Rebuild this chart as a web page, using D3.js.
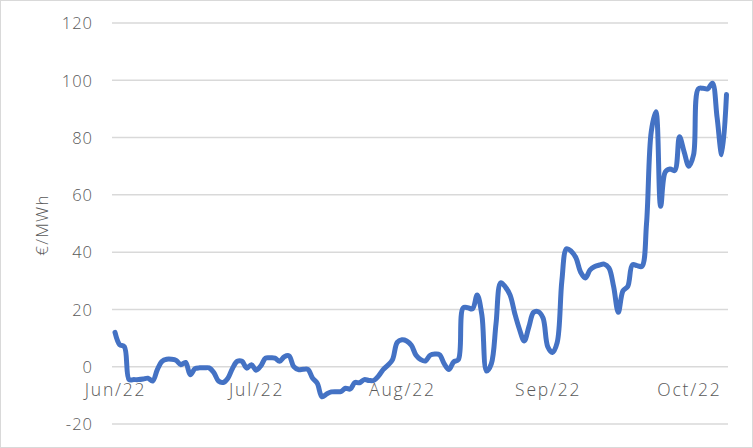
<!DOCTYPE html>
<html><head><meta charset="utf-8">
<script src="https://cdn.jsdelivr.net/npm/d3@7"></script>
<style>
html,body{margin:0;padding:0;background:#fff;}
svg{display:block;}
svg text{font-family:"Open Sans","DejaVu Sans",sans-serif;font-weight:300;}
</style></head><body>
<svg id="c" width="753" height="448"></svg>
<script>
const startDate = "2022-06-01";
const prices = [12,7.7,7,-4.5,-4.5,-4.5,-4.3,-4,-5,-1,
1.9,2.6,2.6,2.2,0.7,1.5,-2.8,-0.7,-0.4,-0.4,
-0.4,-2,-5,-5.5,-4,-0.5,1.9,1.9,-0.5,0.7,
-1.2,0.3,3,3.1,3,1.9,3.5,3.8,0,-1,
-0.9,-0.9,-4,-5.8,-10.5,-9.5,-8.8,-8.7,-8.7,-7.5,
-7.8,-5.5,-5.6,-4.5,-4.8,-4.8,-3.3,-1,0.5,2.5,
8.5,9.4,9,7.5,4,2.5,2,4,4.4,4.2,
1,-1,1.7,2.5,20.5,20.6,20.2,25,18,-1.5,
1,15,29.3,27.8,25,18.5,13,9,14,19,
19.2,17,7,5,8.4,30,41.2,40.3,38,33,
31,33.8,35,35.5,35.8,34.5,28,19,26.5,28,
35.6,35.3,35,50,82,89,56,68,69,68.5,
80.3,75,70,74,97,97.2,97,99,87,74,95];
const tickLabels = ["Jun/22","Jul/22","Aug/22","Sep/22","Oct/22"];
const tickDates = ["2022-06-01","2022-07-01","2022-08-01","2022-09-01","2022-10-01"];
const yTicks = [-20,0,20,40,60,80,100,120];
const yTitle = "€/MWh";

const parse = d3.utcParse("%Y-%m-%d");
const d0 = parse(startDate);
const data = prices.map((v,i)=>({date:d3.utcDay.offset(d0,i), v}));

const svg = d3.select("#c");
svg.append("rect").attr("x",0.5).attr("y",0.5).attr("width",752).attr("height",447)
  .attr("fill","#fff").attr("stroke","#d9d9d9");

const x = d3.scaleUtc().domain([data[0].date, data[data.length-1].date]).range([115,726.5]);
const y = d3.scaleLinear().domain([-20,120]).range([424,23]);
const gridX0 = 112, gridX1 = 728;

// gridlines
svg.append("g").selectAll("line").data(yTicks).join("line")
  .attr("x1",gridX0).attr("x2",gridX1)
  .attr("y1",d=>y(d)).attr("y2",d=>y(d))
  .attr("stroke","#d9d9d9").attr("stroke-width",1.5);

// y axis labels
const yAxis = d3.axisLeft(y).tickValues(yTicks).tickSize(0).tickPadding(0).tickFormat(d=>String(d));
const gy = svg.append("g").attr("transform","translate(93,0)").call(yAxis);
gy.select(".domain").remove();
gy.selectAll("text").attr("fill","#595959").style("font-size","16.5px")
  .style("letter-spacing","1px").attr("dy","0.35em");

// x axis labels
const xAxis = d3.axisBottom(x).tickValues(tickDates.map(parse))
  .tickFormat((d,i)=>tickLabels[i]).tickSize(0).tickPadding(0);
const gx = svg.append("g").attr("transform","translate(0,"+(y(0)+17)+")").call(xAxis);
gx.select(".domain").remove();
gx.selectAll("text").attr("fill","#595959").style("font-size","17.5px")
  .style("letter-spacing","1.8px").attr("dy","0.71em");

// y title
svg.append("text").attr("transform","translate(48,225) rotate(-90)")
  .attr("text-anchor","middle").attr("fill","#595959")
  .style("font-size","17px").style("letter-spacing","1.2px").text(yTitle);

// line
const line = d3.line().x(d=>x(d.date)).y(d=>y(d.v)).curve(d3.curveCatmullRom.alpha(0.5));
svg.append("path").datum(data).attr("d",line)
  .attr("fill","none").attr("stroke","#4472C4").attr("stroke-width",5)
  .attr("stroke-linejoin","round").attr("stroke-linecap","round");
</script>
</body></html>
